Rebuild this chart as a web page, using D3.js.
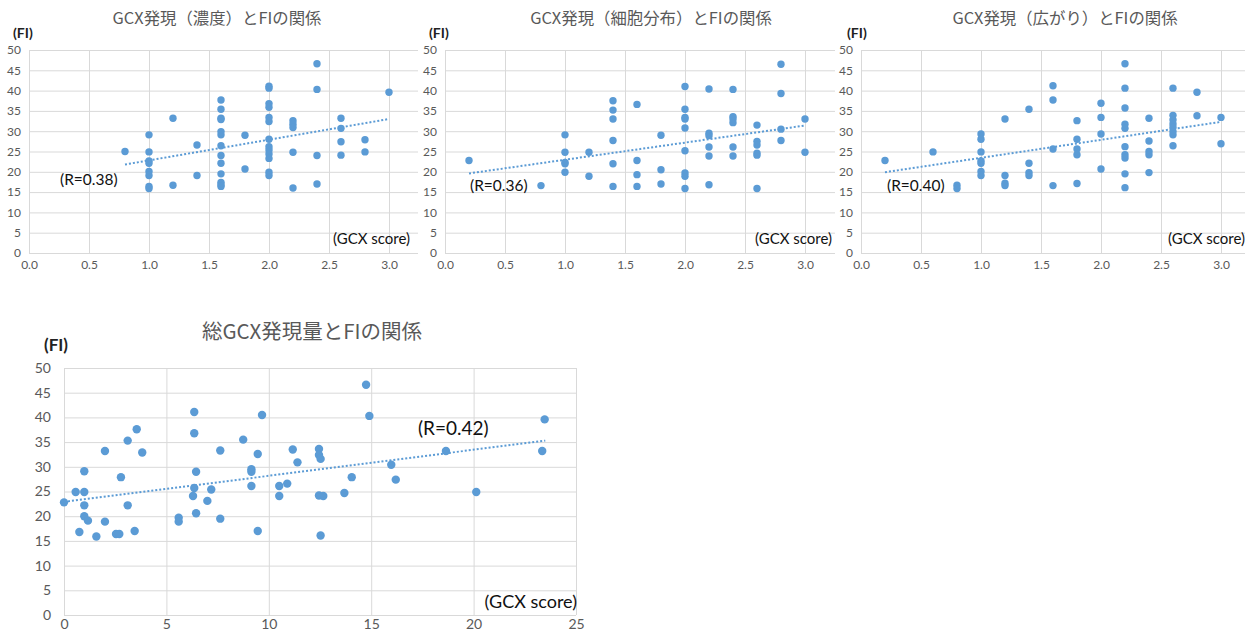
<!DOCTYPE html>
<html><head><meta charset="utf-8">
<script src="https://cdn.jsdelivr.net/npm/d3@7"></script>
<style>
html,body{margin:0;padding:0;background:#fff;}
svg{display:block;}
</style></head>
<body>
<svg id="chart" width="1247" height="636"></svg>
<script>
// ---------- DATA ----------
const titles = ["GCX発現（濃度）とFIの関係", "GCX発現（細胞分布）とFIの関係", "GCX発現（広がり）とFIの関係", "総GCX発現量とFIの関係"];
const rLabels = ["(R=0.38)", "(R=0.36)", "(R=0.40)", "(R=0.42)"];
const yTicks = [0, 5, 10, 15, 20, 25, 30, 35, 40, 45, 50];
const xTicksScore = [0, 0.5, 1.0, 1.5, 2.0, 2.5, 3.0];
const xTicksTotal = [0, 5, 10, 15, 20, 25];

// Panel 1: 濃度
const conc = [
  [0.8,25.0],
  [1.0,29.1],[1.0,24.9],[1.0,22.7],[1.0,22.1],[1.0,20.1],[1.0,19.1],[1.0,16.4],[1.0,15.9],
  [1.2,33.2],[1.2,16.7],
  [1.4,26.6],[1.4,19.1],
  [1.6,37.7],[1.6,35.4],[1.6,33.2],[1.6,32.9],[1.6,29.9],[1.6,29.1],[1.6,26.4],[1.6,24.0],[1.6,22.1],[1.6,19.5],[1.6,17.4],[1.6,16.8],[1.6,16.4],
  [1.8,29.0],[1.8,20.7],
  [2.0,41.1],[2.0,40.6],[2.0,36.8],[2.0,35.9],[2.0,33.4],[2.0,32.4],[2.0,28.0],[2.0,26.2],[2.0,25.4],[2.0,24.4],[2.0,23.3],[2.0,19.9],[2.0,19.1],
  [2.2,32.6],[2.2,31.7],[2.2,30.9],[2.2,24.8],[2.2,16.0],
  [2.4,46.6],[2.4,40.3],[2.4,24.0],[2.4,17.0],
  [2.6,33.2],[2.6,30.7],[2.6,27.4],[2.6,24.1],
  [2.8,27.9],[2.8,24.9],
  [3.0,39.6]
];
const concTrend = [[0.8,21.8],[3.0,33.0]];

// Panel 2: 細胞分布
const dist = [
  [0.2,22.8],
  [0.8,16.6],
  [1.0,29.1],[1.0,24.8],[1.0,22.3],[1.0,22.0],[1.0,19.9],
  [1.2,24.8],[1.2,18.9],
  [1.4,37.5],[1.4,35.2],[1.4,33.0],[1.4,27.7],[1.4,22.0],[1.4,16.4],
  [1.6,36.6],[1.6,22.8],[1.6,19.3],[1.6,16.4],
  [1.8,29.0],[1.8,20.5],[1.8,17.0],
  [2.0,41.0],[2.0,35.4],[2.0,33.4],[2.0,33.0],[2.0,30.8],[2.0,25.2],[2.0,19.7],[2.0,18.9],[2.0,15.9],
  [2.2,40.4],[2.2,29.5],[2.2,28.9],[2.2,26.1],[2.2,23.9],[2.2,16.8],
  [2.4,40.3],[2.4,33.6],[2.4,33.0],[2.4,32.1],[2.4,26.1],[2.4,23.9],
  [2.6,31.5],[2.6,27.5],[2.6,26.6],[2.6,24.6],[2.6,24.1],[2.6,15.9],
  [2.8,46.5],[2.8,39.3],[2.8,30.5],[2.8,27.7],
  [3.0,33.0],[3.0,24.8]
];
const distTrend = [[0.2,19.6],[3.0,31.4]];

// Panel 3: 広がり
const spread = [
  [0.2,22.8],
  [0.6,24.9],
  [0.8,16.7],[0.8,15.9],
  [1.0,29.3],[1.0,28.0],[1.0,24.9],[1.0,22.7],[1.0,22.1],[1.0,20.1],[1.0,19.1],
  [1.2,33.0],[1.2,19.1],[1.2,17.2],[1.2,16.6],
  [1.4,35.4],[1.4,22.1],[1.4,19.8],[1.4,19.1],
  [1.6,41.2],[1.6,37.7],[1.6,25.6],[1.6,16.6],
  [1.8,32.6],[1.8,28.0],[1.8,25.6],[1.8,24.2],[1.8,17.1],
  [2.0,36.9],[2.0,33.4],[2.0,29.3],[2.0,20.7],
  [2.2,46.6],[2.2,40.6],[2.2,35.7],[2.2,31.7],[2.2,30.7],[2.2,26.2],[2.2,24.2],[2.2,23.4],[2.2,19.5],[2.2,16.1],
  [2.4,33.2],[2.4,27.6],[2.4,25.0],[2.4,24.2],[2.4,19.8],
  [2.6,40.6],[2.6,33.9],[2.6,32.8],[2.6,31.8],[2.6,30.9],[2.6,29.9],[2.6,29.1],[2.6,26.4],
  [2.8,39.6],[2.8,33.8],
  [3.0,33.4],[3.0,26.9]
];
const spreadTrend = [[0.2,19.9],[3.0,32.3]];

// Panel 4: 総GCX発現量
const total = [
  [0.0,22.8],[0.57,24.9],[0.99,24.9],[0.99,29.1],[0.99,22.2],[0.99,20.0],[0.75,16.8],[1.17,19.1],
  [1.58,15.9],[2.0,33.2],[2.0,18.9],[2.54,16.4],[2.7,16.4],[2.78,27.9],[3.11,35.3],[3.11,22.2],
  [3.45,17.0],[3.55,37.6],[3.82,32.9],[5.6,19.7],[5.6,18.9],
  [6.36,41.1],[6.36,36.8],[6.45,29.0],[6.36,25.7],[6.3,24.1],[6.45,20.6],[7.0,23.1],[7.19,25.4],
  [7.63,33.3],[7.63,19.5],[8.75,35.5],[9.15,29.5],[9.15,29.0],[9.15,26.1],[9.67,40.5],[9.46,32.6],[9.46,17.0],
  [10.51,26.1],[10.51,24.1],[10.9,26.6],[11.17,33.5],[11.4,30.9],
  [12.45,33.6],[12.45,32.4],[12.53,31.6],[12.45,24.2],[12.66,24.1],[12.53,16.1],
  [13.69,24.7],[14.05,27.9],[14.75,46.6],[14.91,40.3],[15.98,30.4],[16.2,27.4],
  [18.65,33.2],[20.13,24.9],[23.47,39.6],[23.35,33.2]
];
const totalTrend = [[0.0,22.9],[23.5,35.3]];

// ---------- LAYOUT ----------
const svg = d3.select("#chart");
const latin = "Lato, 'Noto Sans CJK JP', sans-serif";
const cjk = "'Noto Sans CJK JP', 'Noto Sans', sans-serif";
const blue = "#5B9BD5", grid = "#D9D9D9", gray = "#595959";

const panels = [
  {data: conc, trend: concTrend, title: titles[0], r: rLabels[0],
   xDom:[0,3.5], xRange:[29,449], yRange:[253,50], right:418, xTicks:xTicksScore, fmt:d3.format(".1f"),
   titleX:217, titleY:20, titleSize:16.4, fiX:13, fiY:34, gcxX:410, gcxY:240, rX:60, rY:181,
   tick:12, lab:14, gcx:15, rs:15.5, dot:3.7, xLabY:268},
  {data: dist, trend: distTrend, title: titles[1], r: rLabels[1],
   xDom:[0,3.5], xRange:[445,865], yRange:[253,50], right:835, xTicks:xTicksScore, fmt:d3.format(".1f"),
   titleX:651, titleY:20, titleSize:16.4, fiX:429, fiY:34, gcxX:832, gcxY:240, rX:470, rY:187,
   tick:12, lab:14, gcx:15, rs:15.5, dot:3.7, xLabY:268},
  {data: spread, trend: spreadTrend, title: titles[2], r: rLabels[2],
   xDom:[0,3.5], xRange:[861,1281], yRange:[253,50], right:1245, xTicks:xTicksScore, fmt:d3.format(".1f"),
   titleX:1065, titleY:20, titleSize:16.4, fiX:847, fiY:34, gcxX:1245, gcxY:240, rX:887, rY:187,
   tick:12, lab:14, gcx:15, rs:15.5, dot:3.7, xLabY:268},
  {data: total, trend: totalTrend, title: titles[3], r: rLabels[3],
   xDom:[0,25], xRange:[64,576], yRange:[615,368], right:576, xTicks:xTicksTotal, fmt:d3.format("d"),
   titleX:312, titleY:333, titleSize:20.5, fiX:44, fiY:347, gcxX:577, gcxY:603, rX:418, rY:430,
   tick:14, lab:17, gcx:18, rs:19, dot:4.2, xLabY:628}
];

panels.forEach(p => {
  const x = d3.scaleLinear().domain(p.xDom).range(p.xRange);
  const y = d3.scaleLinear().domain([0,50]).range(p.yRange);
  const x0 = p.xRange[0];
  const g = svg.append("g");

  // horizontal gridlines + y tick labels
  const yAx = d3.axisLeft(y).tickValues(yTicks).tickSizeInner(-(p.right - x0)).tickSizeOuter(0).tickPadding(p.tick === 12 ? 8 : 13);
  const ya = g.append("g").attr("transform", `translate(${x0},0)`).call(yAx);
  ya.select(".domain").remove();
  ya.selectAll("line").attr("stroke", grid).attr("stroke-width", 1);
  ya.selectAll("text").attr("fill", gray).style("font-family", latin).style("font-size", p.tick + "px");

  // vertical gridlines + x tick labels
  const h = p.yRange[0] - p.yRange[1];
  const xAx = d3.axisBottom(x).tickValues(p.xTicks).tickFormat(p.fmt).tickSizeInner(-h).tickSizeOuter(0).tickPadding(p.xLabY - p.yRange[0] - p.tick/2 - 2);
  const xa = g.append("g").attr("transform", `translate(0,${p.yRange[0]})`).call(xAx);
  xa.select(".domain").remove();
  xa.selectAll("line").attr("stroke", grid).attr("stroke-width", 1);
  xa.selectAll("text").attr("fill", gray).style("font-family", latin).style("font-size", p.tick + "px");

  // trend line (dotted)
  g.append("path")
    .attr("d", d3.line().x(d => x(d[0])).y(d => y(d[1]))(p.trend))
    .attr("fill", "none").attr("stroke", blue).attr("stroke-width", 2)
    .attr("stroke-dasharray", "2,2");

  // points
  g.selectAll("circle.pt").data(p.data).join("circle")
    .attr("class", "pt")
    .attr("cx", d => x(d[0])).attr("cy", d => y(d[1])).attr("r", p.dot)
    .attr("fill", blue);

  // title
  g.append("text").attr("x", p.titleX).attr("y", p.titleY).attr("text-anchor", "middle")
    .attr("dominant-baseline", "middle").attr("fill", gray)
    .style("font-family", cjk).style("font-size", p.titleSize + "px").text(p.title);

  // (FI)
  g.append("text").attr("x", p.fiX).attr("y", p.fiY).attr("dominant-baseline", "middle")
    .attr("fill", "#222").style("font-weight", "bold")
    .style("font-family", latin).style("font-size", p.lab + "px").text("(FI)");

  // (GCX score)
  g.append("text").attr("x", p.gcxX).attr("y", p.gcxY).attr("text-anchor", "end")
    .attr("dominant-baseline", "middle").attr("fill", "#111")
    .style("font-family", latin).style("font-size", p.gcx + "px").text("(GCX score)");

  // R label
  g.append("text").attr("x", p.rX).attr("y", p.rY).attr("dominant-baseline", "middle")
    .attr("fill", "#111")
    .style("font-family", latin).style("font-size", p.rs + "px").text(p.r);
});
</script>
</body></html>
